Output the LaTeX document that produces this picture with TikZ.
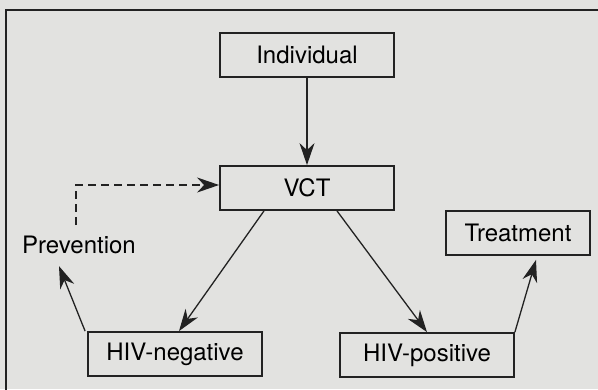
\documentclass[tikz,border=0pt]{standalone}
\usepackage{fontspec}
\setmainfont{TeX Gyre Heros}
\usepackage{tikz}
\usepackage{xcolor}
\usetikzlibrary{positioning, arrows.meta}

\definecolor{paper}{RGB}{226,226,224}
\definecolor{ink}{RGB}{34,34,34}

\tikzset{
    stagebox/.style={draw=ink, line width=1.8pt, fill=paper, minimum width=174pt,
        minimum height=44pt, inner sep=0pt, font=\fontsize{24}{28}\selectfont},
    flow/.style={draw=ink, line width=1.3pt, -{Stealth[length=22pt, width=15pt, inset=7pt]}},
}

\begin{document}
\begin{tikzpicture}[x=1pt, y=-1pt]
    % Page and frame
    \useasboundingbox (0,0) rectangle (598,389);
    \clip (0,0) rectangle (598,389);
    \fill[paper] (0,0) rectangle (598,389);
    \draw[ink, line width=1.8pt] (6,10) rectangle (640,420);

    % Boxes
    \node[stagebox] (indiv) at (307,55) {Individual};
    \node[stagebox] (vct) at (307,188) {VCT};
    \node[stagebox, minimum width=144pt] (treat) at (518,233) {Treatment};
    \node[stagebox] (neg) at (175,354) {HIV-negative};
    \node[stagebox] (pos) at (427,355) {HIV-positive};
    \node[font=\fontsize{24}{28}\selectfont, inner sep=0pt] (prev) at (79,245) {Prevention};
    \coordinate (dashstart) at (76,225);

    % Arrows
    \draw[flow] (indiv) -- (vct);
    \draw[flow] ([xshift=-43pt]vct.south) -- ([xshift=4pt]neg.north);
    \draw[flow] ([xshift=30pt]vct.south) -- (pos.north);
    \draw[flow] ([xshift=-2pt]neg.north west) -- ([xshift=-20pt, yshift=-12pt]prev.south);
    \draw[flow] (pos.north east) -- ([xshift=18pt, yshift=-4pt]treat.south);
    \draw[flow, line width=1.8pt, dash pattern=on 8pt off 5pt]
        (dashstart) |- ([yshift=3pt]vct.west);
\end{tikzpicture}
\end{document}
